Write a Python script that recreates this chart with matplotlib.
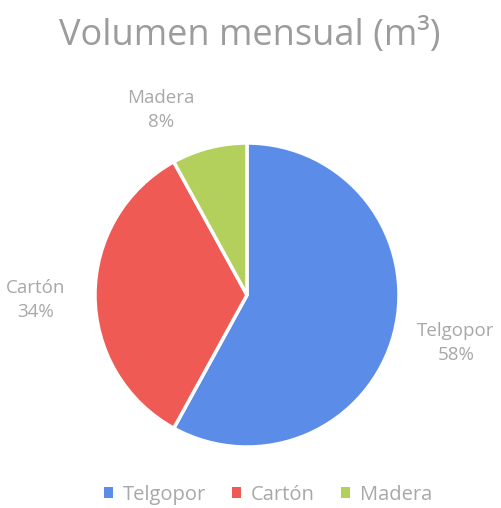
import matplotlib
matplotlib.use("Agg")
import matplotlib.pyplot as plt
from matplotlib.patches import Patch

categories = ["Telgopor", "Cartón", "Madera"]
values = [58, 34, 8]
colors = ["#5B8DE8", "#F05A55", "#B3CF5C"]

label_pos = [(1.375, -0.316), (-1.388, -0.033), (-0.566, 1.217)]

plt.rcParams['font.family'] = ['Open Sans', 'DejaVu Sans']

fig = plt.figure(figsize=(5.02, 5.08), dpi=100)
fig.patch.set_facecolor("white")
ax = fig.add_axes([95/502, 61/508, 304/502, 304/508])
wedges, _ = ax.pie(values, colors=colors, startangle=90, counterclock=False,
                   radius=1.0, wedgeprops=dict(edgecolor="white", linewidth=2.5))
ax.set_xlim(-1, 1)
ax.set_ylim(-1, 1)
ax.set_aspect("equal")
ax.axis("off")

for cat, v, (x, y) in zip(categories, values, label_pos):
    ax.text(x, y, f"{cat}\n{v}%", ha="center", va="center", fontsize=13.5,
            color="#A8A8A8", linespacing=1.4, clip_on=False)

fig.text(0.497, 1 - 36/508, "Volumen mensual (m³)", ha="center", va="center",
         fontsize=26, color="#9C9C9C")

handles = [Patch(facecolor=c, edgecolor="none") for c in colors]
fig.legend(handles, categories, loc="center", bbox_to_anchor=(0.534, 1 - 495/508),
           ncol=3, frameon=False, fontsize=14.5, labelcolor="#A8A8A8",
           handlelength=0.45, handleheight=0.45, handletextpad=0.5, columnspacing=1.3)

fig.savefig("out.png", dpi=100, facecolor="white")
